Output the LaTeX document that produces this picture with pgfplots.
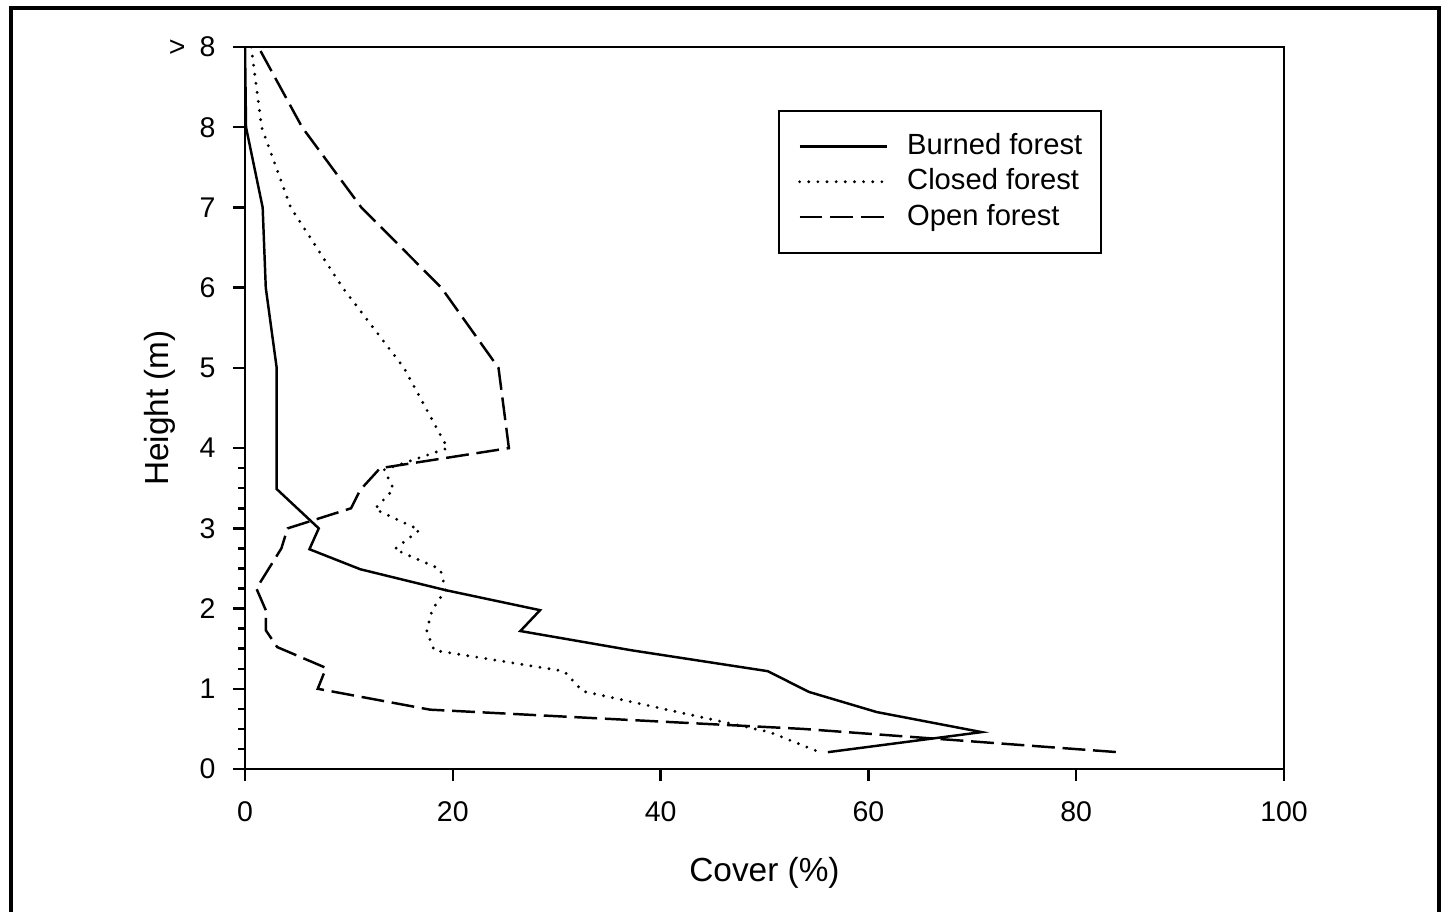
\documentclass[border=0pt]{standalone}
\usepackage{fontspec}
\setmainfont{Liberation Sans}
\usepackage{pgfplots}
\pgfplotsset{compat=1.18}

\begin{document}
\begin{tikzpicture}
\path[use as bounding box] (-2.45,-1.42) rectangle (11.98,7.69);
\draw[line width=1.1pt] (-2.34,-1.6) -- (-2.34,7.61) -- (11.94,7.61) -- (11.94,-1.6);
\begin{axis}[
    at={(0,0)}, anchor=south west,
    scale only axis,
    width=10.39cm, height=7.22cm,
    xmin=0, xmax=100, ymin=0, ymax=9,
    xtick={0,20,...,100},
    ytick={0,...,9},
    yticklabels={0,1,2,3,4,5,6,7,8,{>\enspace 8}},
    minor ytick={0.25,0.5,0.75,1.25,1.5,1.75,2.25,2.5,2.75,3.25,3.5,3.75},
    tick align=outside,
    xtick pos=left, ytick pos=left,
    major tick length=0.12cm, minor tick length=0.07cm,
    tick style={line width=0.7pt, black},
    axis line style={line width=0.7pt},
    ticklabel style={font=\fontsize{8.1}{9}\selectfont},
    xticklabel style={yshift=-0.08cm},
    yticklabel style={xshift=-0.05cm},
    /pgf/number format/assume math mode=true,
    xlabel={Cover (\%)}, ylabel={Height (m)},
    label style={font=\fontsize{9.5}{11}\selectfont},
    xlabel style={at={(axis description cs:0.5,-0.144)}, anchor=center},
    ylabel style={at={(axis description cs:-0.0818,0.5)}, anchor=center},
    legend style={at={(axis description cs:0.513,0.913)}, anchor=north west,
        draw=black, line width=0.6pt, inner xsep=5.4pt, inner ysep=6pt,
        font=\fontsize{8.3}{10}\selectfont, row sep=1.7pt,
        nodes={inner sep=0pt, text height=6.5pt, text depth=1.8pt}},
    legend cell align=left,
    legend image code/.code={\draw[#1] (0cm,0cm) -- (0.87cm,0cm); \path (1.06cm,0cm);},
]
% Burned forest
\addplot[black, line width=0.7pt] coordinates {
    (0,9) (0.1,8) (1.7,7) (2.0,6) (3.05,5) (3.05,3.49) (7.1,3.0) (6.2,2.74)
    (11.1,2.49) (19.3,2.23) (28.4,1.98) (26.5,1.72) (37.2,1.48) (50.3,1.22)
    (54.3,0.96) (60.8,0.71) (70.9,0.46) (56.1,0.21)
};
% Closed forest
\addplot[black, line width=0.9pt, line cap=round, dash pattern=on 0pt off 2.6pt] coordinates {
    (0.6,9) (1.6,8) (4.4,7) (9.4,6) (15.3,5) (19.5,4) (13.4,3.73) (14.3,3.49)
    (12.5,3.24) (16.8,2.98) (14.4,2.74) (18.8,2.49) (19.3,2.23) (18.0,1.98)
    (17.5,1.72) (18.2,1.48) (30.7,1.22) (32.5,0.97) (50.5,0.46) (55.3,0.21)
};
% Open forest
\addplot[black, line width=0.7pt, dash pattern=on 6.5pt off 2.2pt] coordinates {
    (1.5,8.95) (5.5,8) (11.2,7) (18.9,6) (24.4,5) (25.4,4) (13.0,3.75) (11.1,3.48)
    (10.2,3.25) (4.1,3.0) (3.5,2.75) (1.1,2.25) (2.0,1.98) (2.0,1.73) (3.1,1.52)
    (7.8,1.26) (7.0,1.0) (17.8,0.74) (53.7,0.5) (84.0,0.21)
};
\legend{Burned forest, Closed forest, Open forest}
\end{axis}
\end{tikzpicture}
\end{document}
